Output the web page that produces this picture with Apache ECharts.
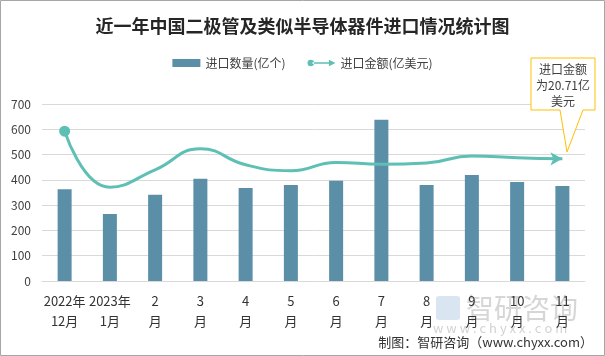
<!DOCTYPE html>
<html><head><meta charset="utf-8">
<script src="https://cdn.jsdelivr.net/npm/echarts@6/dist/echarts.min.js"></script>
<style>html,body{margin:0;padding:0;background:#fff}#c{width:605px;height:356px}</style>
</head><body><div id="c"></div>
<script>
var categories = ['2022年\n12月','2023年\n1月','2\n月','3\n月','4\n月','5\n月','6\n月','7\n月','8\n月','9\n月','10\n月','11\n月'];
var importQty = [363, 265, 341, 404, 368, 380, 396, 638, 380, 419, 392, 376];
var importValue = [25.4, 15.9, 18.85, 22.4, 19.7, 18.7, 20.1, 19.8, 20.0, 21.2, 20.9, 20.71];
var yTicks = [0, 100, 200, 300, 400, 500, 600, 700];

var font = '"Noto Sans CJK SC","Microsoft YaHei",sans-serif';
var lineData = importValue.map(function(v, i){
  if (i === 0) return {value: v, symbol: 'circle', symbolSize: 11};
  if (i === importValue.length - 1) return {value: v, symbol: 'arrow', symbolSize: [10, 12], symbolRotate: -90};
  return {value: v, symbol: 'none'};
});
var chart = echarts.init(document.getElementById('c'));
chart.setOption({
  backgroundColor: '#fff',
  animation: false,
  textStyle: {fontFamily: font},
  title: {text: '近一年中国二极管及类似半导体器件进口情况统计图', left: 'center', top: 12,
    textStyle: {fontSize: 18, fontWeight: 'bold', color: '#262626', fontFamily: font}},
  legend: {top: 52, left: 'center', itemWidth: 28, itemHeight: 8, itemGap: 22,
    textStyle: {fontSize: 12, color: '#404040'},
    data: [{name: '进口数量(亿个)', icon: 'rect'},
           {name: '进口金额(亿美元)', icon: 'path://M0,4 A4,4 0 1,0 8,4 A4,4 0 1,0 0,4 Z M6,3 L27,3 L27,5 L6,5 Z M26,0 L34,4 L26,8 Z'}]},
  grid: {left: 42, right: 20, top: 104, bottom: 75},
  xAxis: {type: 'category', data: categories,
    axisLine: {lineStyle: {color: '#d9d9d9'}}, axisTick: {show: false},
    axisLabel: {fontSize: 13, color: '#333', lineHeight: 20, margin: 10, interval: 0}},
  yAxis: [{type: 'value', min: 0, max: 700, interval: 100,
    axisLabel: {fontSize: 12, color: '#404040', margin: 11,
      formatter: function(v){ return yTicks.indexOf(v) >= 0 ? String(v) : ''; }},
    axisLine: {show: false}, axisTick: {show: false},
    splitLine: {lineStyle: {color: '#d9d9d9'}}},
    {type: 'value', min: 0, max: 30, show: false, splitLine: {show: false}}],
  series: [
    {name: '进口数量(亿个)', type: 'bar', data: importQty, barWidth: 14,
      itemStyle: {color: '#5B8FA8'}},
    {name: '进口金额(亿美元)', type: 'line', yAxisIndex: 1, data: lineData, smooth: 0.5,
      lineStyle: {color: '#5EBFB5', width: 3}, itemStyle: {color: '#5EBFB5'}, z: 3}
  ],
  graphic: [
    {type: 'rect', shape: {x: 0.5, y: 0.5, width: 604, height: 355}, style: {fill: 'none', stroke: '#a6a6a6', lineWidth: 1}, z: 100},
    {type: 'polygon', shape: {points: [[531,58],[595,58],[595,110],[583,110],[567,152],[560,110],[531,110]]},
      style: {fill: '#fff', stroke: '#FFC000', lineWidth: 1}, z: 50},
    {type: 'text', x: 563, y: 61, z: 51,
      style: {text: '进口金额\n为20.71亿\n美元', align: 'center', textAlign: 'center', lineHeight: 16, fill: '#404040', font: '12px ' + font}},
    {type: 'text', x: 466, y: 294, z: 0, silent: true,
      style: {text: '智研咨询', font: '28px ' + font, fill: 'rgba(180,180,180,0.55)'}},
    {type: 'rect', x: 436, y: 296, shape: {width: 24, height: 24, r: 3}, z: 0,
      style: {fill: 'rgba(170,200,225,0.45)'}},
    {type: 'text', x: 433, y: 322, z: 0,
      style: {text: 'w w w . c h y x x . c o m', font: '13px ' + font, fill: 'rgba(180,180,180,0.6)'}},
    {type: 'text', right: 12, top: 336, z: 60,
      style: {text: '制图：智研咨询（www.chyxx.com）', font: '13px ' + font, fill: '#333'}}
  ]
});
</script></body></html>
